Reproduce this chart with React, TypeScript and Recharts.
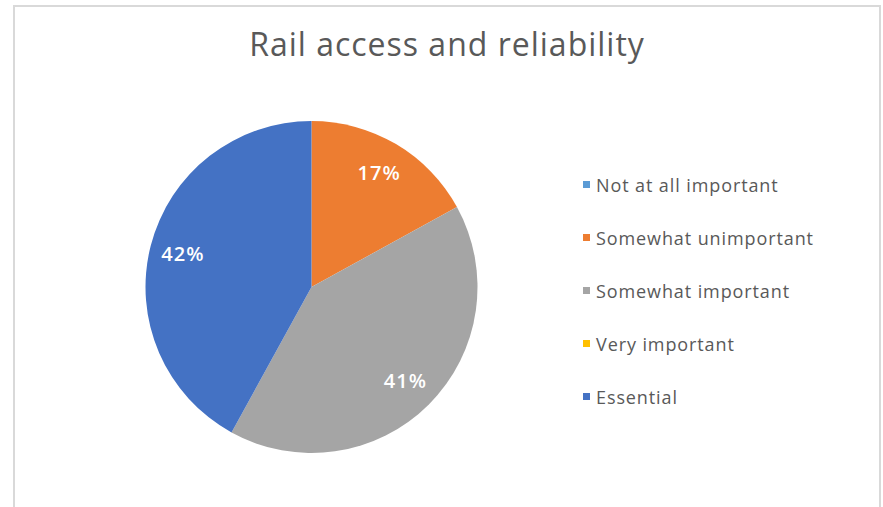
import React from "react";
import { PieChart, Pie, Cell, Legend } from "recharts";

const categories = [
  "Not at all important",
  "Somewhat unimportant",
  "Somewhat important",
  "Very important",
  "Essential",
];
const shares = [0, 17, 41, 0, 42];
const colors = ["#5B9BD5", "#ED7D31", "#A5A5A5", "#FFC000", "#4472C4"];

const title = "Rail access and reliability";
const font = "'Open Sans', sans-serif";

const data = categories.map((name, i) => ({ name, value: shares[i] }));

const RADIAN = Math.PI / 180;

const renderLabel = (props: any) => {
  const { cx, cy, midAngle, outerRadius, percent, value } = props;
  if (!value) return null;
  const r = outerRadius * 0.8;
  const x = cx + r * Math.cos(-midAngle * RADIAN);
  const y = cy + r * Math.sin(-midAngle * RADIAN);
  return (
    <text
      x={x}
      y={y}
      fill="#fff"
      textAnchor="middle"
      dominantBaseline="central"
      fontFamily={font}
      fontSize={20}
      fontWeight={600}
      letterSpacing={1}
    >
      {`${Math.round(percent * 100)}%`}
    </text>
  );
};

const LegendList = () => (
  <div
    style={{
      fontFamily: font,
      fontSize: 18,
      letterSpacing: 0.9,
      color: "#595959",
    }}
  >
    {categories.map((c, i) => (
      <div
        key={c}
        style={{ display: "flex", alignItems: "center", height: 53 }}
      >
        <span
          style={{
            width: 7,
            height: 7,
            background: colors[i],
            marginRight: 6,
            display: "inline-block",
          }}
        />
        <span>{c}</span>
      </div>
    ))}
  </div>
);

export default function App() {
  return (
    <div
      style={{
        position: "absolute",
        left: 0,
        top: 0,
        width: 883,
        height: 507,
        background: "#fff",
        overflow: "hidden",
      }}
    >
      <div
        style={{
          position: "absolute",
          left: 13,
          top: 5,
          width: 864,
          height: 520,
          border: "2px solid #d9d9d9",
        }}
      />
      <div
        style={{
          position: "absolute",
          left: 14,
          top: 22,
          width: 866,
          textAlign: "center",
          fontFamily: font,
          fontSize: 32,
          letterSpacing: 1,
          color: "#595959",
          lineHeight: "normal",
        }}
      >
        {title}
      </div>
      <div style={{ position: "absolute", left: 0, top: 0 }}>
        <PieChart
          width={883}
          height={507}
          margin={{ top: 0, right: 0, bottom: 0, left: 0 }}
        >
          <Pie
            data={data}
            dataKey="value"
            nameKey="name"
            cx={311.5}
            cy={287}
            outerRadius={166}
            startAngle={90}
            endAngle={-270}
            stroke="none"
            label={renderLabel}
            labelLine={false}
            isAnimationActive={false}
          >
            {data.map((d, i) => (
              <Cell key={d.name} fill={colors[i]} />
            ))}
          </Pie>
          <Legend
            content={() => <LegendList />}
            wrapperStyle={{ left: 583, top: 158, width: 295 }}
          />
        </PieChart>
      </div>
    </div>
  );
}
